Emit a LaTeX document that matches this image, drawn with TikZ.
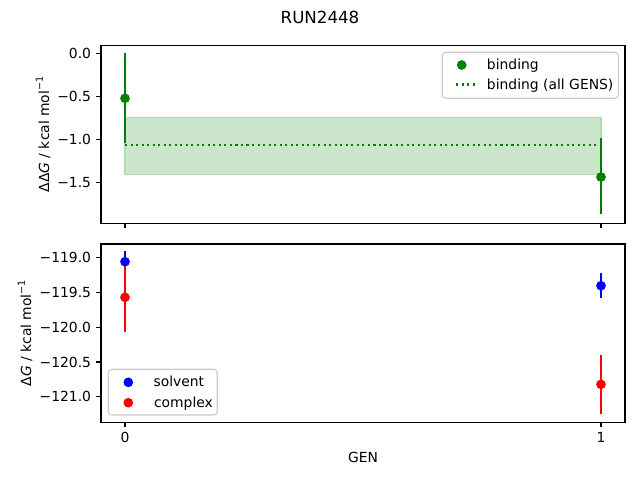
\documentclass[tikz,border=0pt]{standalone}
\usepackage{fontspec}
\setmainfont{DejaVu Sans}
\definecolor{mgreen}{HTML}{008000}
\definecolor{mblue}{HTML}{0000FF}
\definecolor{mred}{HTML}{FF0000}
\definecolor{bandfill}{HTML}{CCE6CC}
\definecolor{bandedge}{HTML}{B3D9B3}
\newcommand{\mysup}[1]{\raisebox{0.45em}{\fontsize{7}{8}\selectfont #1}}
\tikzset{
  axframe/.style={line width=0.8pt, black},
  tickmark/.style={line width=0.8pt, black},
  ticklab/.style={font=\fontsize{10}{12}\selectfont, inner sep=0pt},
  ylabelnode/.style={font=\fontsize{10}{12}\selectfont, inner sep=0pt, rotate=90},
  errbar/.style={line width=1.5pt},
  legbox/.style={draw=black!20, fill=white, fill opacity=0.8, draw opacity=1, line width=0.8pt, rounded corners=2.5pt},
  legtext/.style={font=\fontsize{10}{12}\selectfont, inner sep=0pt, anchor=base west},
}
\def\mr{3.5pt}
\begin{document}
\begin{tikzpicture}[x=0.72pt, y=-0.72pt]
\useasboundingbox (0,0) rectangle (640,480);
\fill[white] (0,0) rectangle (640,480);

% title
\node[font=\fontsize{12}{14}\selectfont, inner sep=0pt] (title) at (320,17) {RUN2448};

% ===== top axes =====
\fill[bandfill] (125,117.3) rectangle (601,174.7);
\draw[bandedge, line width=1pt] (125,117.3) rectangle (601,174.7);
\draw[mgreen, line width=1.5pt, dash pattern=on 1.5pt off 2.475pt] (125,144.7) -- (601,144.7);
\draw[mgreen, errbar] (125,53.3) -- (125,142.7);
\fill[mgreen] (125,98.3) circle (\mr);
\draw[mgreen, errbar] (601,138.3) -- (601,214.3);
\fill[mgreen] (601,177) circle (\mr);
\draw[axframe] (101,45.3) rectangle (625,223.3);
% y ticks
\foreach \yy/\lab in {53.3/0.0, 96.4/−0.5, 139.6/−1.0, 182.7/−1.5}{
  \draw[tickmark] (101,\yy) -- (96.1,\yy);
  \node[ticklab, anchor=base east] at (91.3,\yy+5) {\lab};
}
% x ticks (no labels)
\foreach \xx in {125,601}{
  \draw[tickmark] (\xx,223.3) -- (\xx,228.2);
}
\node[ylabelnode] (ylabtop) at (43,134.3) {ΔΔ\textit{G} / kcal mol\mysup{−1}};

% legend top
\draw[legbox] (442.3,52.3) rectangle (618.3,98.3);
\fill[mgreen] (461.7,65) circle (\mr);
\node[legtext] (lb1) at (486.7,69.5) {binding};
\draw[mgreen, line width=1.5pt, dash pattern=on 1.5pt off 2.475pt] (456,84.5) -- (475.5,84.5);
\node[legtext] (lb2) at (486.7,89) {binding (all GENS)};

% ===== bottom axes =====
\draw[mblue, errbar] (125,250.7) -- (125,272.7);
\draw[mred, errbar] (125,262.3) -- (125,332.3);
\draw[mblue, errbar] (601,273.3) -- (601,298);
\draw[mred, errbar] (601,355) -- (601,414);
\fill[mblue] (125,261.7) circle (\mr);
\fill[mblue] (601,285.7) circle (\mr);
\fill[mred] (125,297.3) circle (\mr);
\fill[mred] (601,384.3) circle (\mr);
\draw[axframe] (101,244) rectangle (625,422.3);
\foreach \yy/\lab in {257.7/−119.0, 292.5/−119.5, 327.2/−120.0, 362/−120.5, 396.7/−121.0}{
  \draw[tickmark] (101,\yy) -- (96.1,\yy);
  \node[ticklab, anchor=base east] at (91.3,\yy+5) {\lab};
}
\foreach \xx/\lab in {125/0, 601/1}{
  \draw[tickmark] (\xx,422.3) -- (\xx,427.2);
  \node[ticklab, anchor=north] at (\xx,432) {\lab};
}
\node[ylabelnode] (ylabbot) at (25,333.1) {Δ\textit{G} / kcal mol\mysup{−1}};
\node[ticklab] (xlab) at (363,457) {GEN};

% legend bottom
\draw[legbox] (108.3,369.3) rectangle (217.3,415);
\fill[mblue] (128.3,382.3) circle (\mr);
\node[legtext] (ls) at (153.3,386.8) {solvent};
\fill[mred] (128.3,402.7) circle (\mr);
\node[legtext] (lc) at (153.8,407.2) {complex};
\end{tikzpicture}
\end{document}
